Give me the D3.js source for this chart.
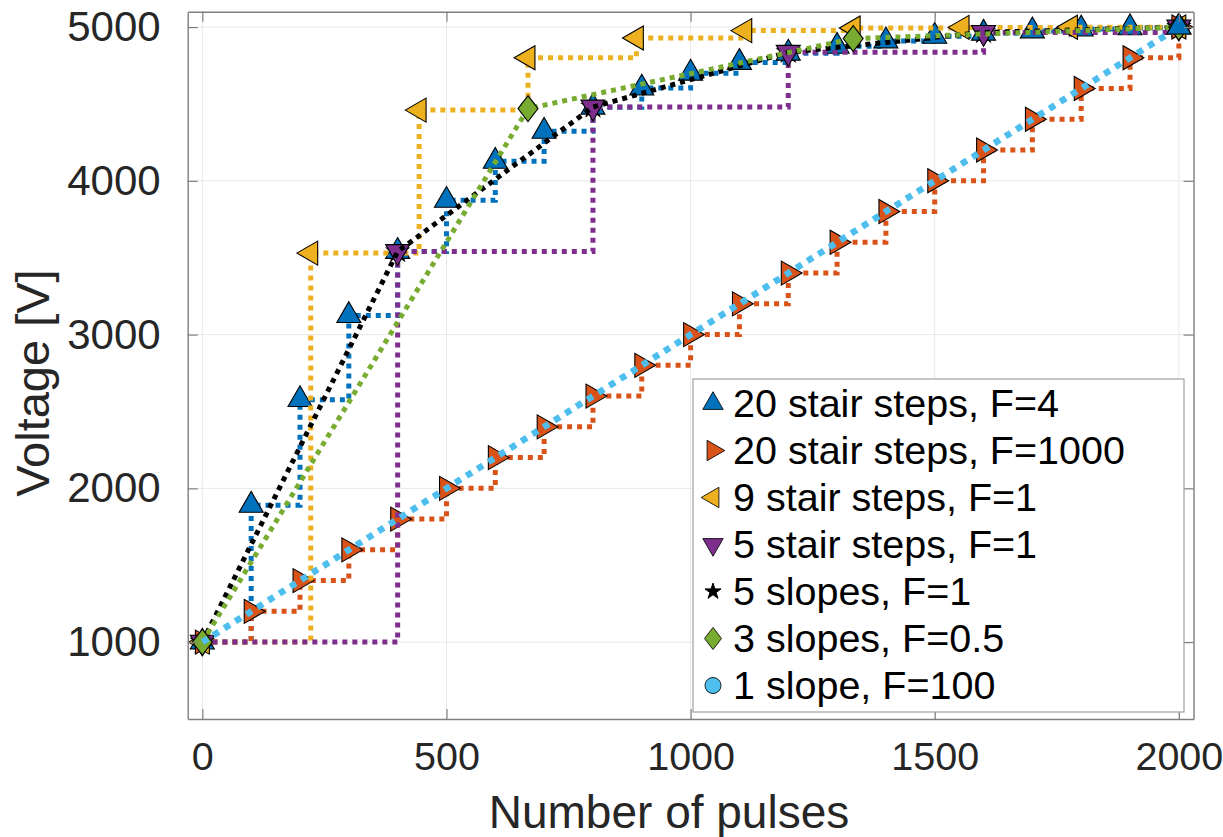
<!DOCTYPE html>
<html>
<head>
<meta charset="utf-8">
<script src="https://cdnjs.cloudflare.com/ajax/libs/d3/7.8.5/d3.min.js"></script>
<style>
  body { margin: 0; background: #fff; }
  svg { display: block; font-family: "Liberation Sans", Arial, Helvetica, sans-serif; }
</style>
</head>
<body>
<svg id="chart" width="1223" height="837"></svg>
<script>
// number of pulses at each step
const xStairs20 = [0, 100, 200, 300, 400, 500, 600, 700, 800, 900, 1000,
    1100, 1200, 1300, 1400, 1500, 1600, 1700, 1800, 1900, 2000];
const vStairs20F4 = [1000, 1890, 2577, 3124, 3541, 3873, 4127, 4322, 4479, 4603, 4700,
    4770, 4830, 4875, 4910, 4940, 4960, 4975, 4987, 4995, 5000];
const vStairs20F1000 = [1000, 1200, 1400, 1600, 1800, 2000, 2200, 2400, 2600, 2800, 3000,
    3200, 3400, 3600, 3800, 4000, 4200, 4400, 4600, 4800, 5000];
const xStairs9 = [0, 222, 444, 667, 889, 1111, 1333, 1556, 1778, 2000];
const vStairs9 = [1000, 3530, 4460, 4800, 4929, 4977, 4994, 4998, 4999, 5000];
const xStairs5 = [0, 400, 800, 1200, 1600, 2000];
const vStairs5 = [1000, 3540, 4480, 4836, 4965, 5000];
const xSlopes5 = [0, 400, 800, 1200, 1600, 2000];
const vSlopes5 = [1000, 3540, 4480, 4836, 4965, 5000];
const xSlopes3 = [0, 667, 1333, 2000];
const vSlopes3 = [1000, 4470, 4925, 5000];
const xSlope1 = [0, 2000];
const vSlope1 = [1000, 5000];

const xTicks = [0, 500, 1000, 1500, 2000];
const yTicks = [1000, 2000, 3000, 4000, 5000];

// series in plotting order (same as legend)
const series = [
    {name: "20 stair steps, F=4", xs: xStairs20, vs: vStairs20F4, color: "#0072BD", marker: "up", step: true},
    {name: "20 stair steps, F=1000", xs: xStairs20, vs: vStairs20F1000, color: "#D95319", marker: "right", step: true},
    {name: "9 stair steps, F=1", xs: xStairs9, vs: vStairs9, color: "#EDB120", marker: "left", step: true},
    {name: "5 stair steps, F=1", xs: xStairs5, vs: vStairs5, color: "#7E2F8E", marker: "down", step: true},
    {name: "5 slopes, F=1", xs: xSlopes5, vs: vSlopes5, color: "#000000", marker: "star", step: false},
    {name: "3 slopes, F=0.5", xs: xSlopes3, vs: vSlopes3, color: "#77AC30", marker: "diamond", step: false},
    {name: "1 slope, F=100", xs: xSlope1, vs: vSlope1, color: "#4DBEEE", marker: "circle", step: false, wide: true}
];

const box = {left: 187.7, right: 1193.5, top: 11.7, bottom: 719};

const x = d3.scaleLinear().domain([-30, 2030]).range([box.left, box.right]);
const y = d3.scaleLinear().domain([500, 5100]).range([box.bottom, box.top]);

const svg = d3.select("#chart");

// grid lines
const grid = svg.append("g").attr("class", "grid");
grid.selectAll("line.gx").data(xTicks).enter().append("line")
    .attr("x1", d => x(d)).attr("x2", d => x(d))
    .attr("y1", box.top).attr("y2", box.bottom)
    .attr("stroke", "#e8e8e8").attr("stroke-width", 1);
grid.selectAll("line.gy").data(yTicks).enter().append("line")
    .attr("y1", d => y(d)).attr("y2", d => y(d))
    .attr("x1", box.left).attr("x2", box.right)
    .attr("stroke", "#e8e8e8").attr("stroke-width", 1);

// marker shapes
function markerPath(type) {
    if (type === "up" || type === "down" || type === "left" || type === "right")
        return d3.symbol(d3.symbolTriangle, 250)();
    if (type === "star") return d3.symbol(d3.symbolStar, 150)();
    if (type === "circle") return d3.symbol(d3.symbolCircle, 280)();
    // tall diamond like matlab
    return "M0,-13L10,0L0,13L-10,0Z";
}
const markerRot = {up: 0, down: 180, left: -90, right: 90, star: 0, circle: 0, diamond: 0};

function drawMarkers(g, s, pts) {
    g.selectAll(null)
        .data(pts)
        .enter().append("path")
        .attr("d", markerPath(s.marker))
        .attr("transform", d => "translate(" + x(d[0]) + "," + y(d[1]) + ") rotate(" + markerRot[s.marker] + ")")
        .attr("fill", s.color)
        .attr("stroke", "#000")
        .attr("stroke-width", 1.1);
}

const plot = svg.append("g").attr("class", "plot");
const under = plot.append("g");   // circle and star markers end up hidden below the rest

series.forEach(s => {
    const pts = s.xs.map((px, i) => [px, s.vs[i]]);
    const line = d3.line()
        .x(d => x(d[0]))
        .y(d => y(d[1]))
        .curve(s.step ? d3.curveStepAfter : d3.curveLinear);

    plot.append("path")
        .datum(pts)
        .attr("d", line)
        .attr("fill", "none")
        .attr("stroke", s.color)
        .attr("stroke-width", s.wide ? 6.5 : 5)
        .attr("stroke-dasharray", s.wide ? "6.5 6.5" : "5 5");

    const hidden = s.marker === "circle" || s.marker === "star";
    drawMarkers(hidden ? under : plot, s, pts);
});

// last blue triangle sits on top of the pile at the end point
const blue = series[0];
drawMarkers(plot.append("g"), blue, [[blue.xs[blue.xs.length - 1], blue.vs[blue.vs.length - 1]]]);

// axes with inward ticks
const axisColor = "#7f7f7f";
function styleAxis(g) {
    g.select(".domain").attr("stroke", axisColor).attr("stroke-width", 1.4);
    g.selectAll(".tick line").attr("stroke", axisColor).attr("stroke-width", 1.2);
    g.selectAll(".tick text").attr("fill", "#262626");
    g.attr("font-family", null).attr("font-size", null);
}

svg.append("g")
    .attr("transform", "translate(0," + box.bottom + ")")
    .call(d3.axisBottom(x).tickValues(xTicks).tickFormat(d3.format("d"))
        .tickSizeInner(-10).tickSizeOuter(0).tickPadding(23))
    .call(styleAxis)
    .selectAll("text").style("font-size", "39.5px");

svg.append("g")
    .attr("transform", "translate(0," + box.top + ")")
    .call(d3.axisTop(x).tickValues(xTicks).tickSizeInner(-10).tickSizeOuter(0).tickFormat(""))
    .call(styleAxis);

svg.append("g")
    .attr("transform", "translate(" + box.left + ",0)")
    .call(d3.axisLeft(y).tickValues(yTicks).tickFormat(d3.format("d"))
        .tickSizeInner(-10).tickSizeOuter(0).tickPadding(27))
    .call(styleAxis)
    .selectAll("text").style("font-size", "42px");

svg.append("g")
    .attr("transform", "translate(" + box.right + ",0)")
    .call(d3.axisRight(y).tickValues(yTicks).tickSizeInner(-10).tickSizeOuter(0).tickFormat(""))
    .call(styleAxis);

// axis titles
svg.append("text")
    .attr("x", 669).attr("y", 828)
    .attr("text-anchor", "middle")
    .attr("fill", "#262626")
    .style("font-size", "46px")
    .text("Number of pulses");

svg.append("text")
    .attr("transform", "translate(49,383) rotate(-90)")
    .attr("text-anchor", "middle")
    .attr("fill", "#262626")
    .style("font-size", "47px")
    .text("Voltage [V]");

// legend
const legend = svg.append("g").attr("class", "legend");
legend.append("rect")
    .attr("x", 693).attr("y", 379)
    .attr("width", 1184 - 693).attr("height", 712 - 379)
    .attr("fill", "#fff")
    .attr("stroke", "#a0a0a0").attr("stroke-width", 1.2);

const rows = legend.selectAll("g.row")
    .data(series)
    .enter().append("g")
    .attr("class", "row")
    .attr("transform", (d, i) => "translate(0," + (403.5 + i * 47) + ")");

rows.append("path")
    .attr("d", d => d.marker === "star" ? d3.symbol(d3.symbolStar, 80)() : markerPath(d.marker))
    .attr("transform", d => "translate(713,0) rotate(" + markerRot[d.marker] + ") scale(" + (d.marker === "star" ? 1 : 0.85) + ")")
    .attr("fill", d => d.color)
    .attr("stroke", "#000")
    .attr("stroke-width", 1);

rows.append("text")
    .attr("x", 733).attr("y", 13.5)
    .attr("fill", "#000")
    .style("font-size", "39.5px")
    .text(d => d.name);
</script>
</body>
</html>
